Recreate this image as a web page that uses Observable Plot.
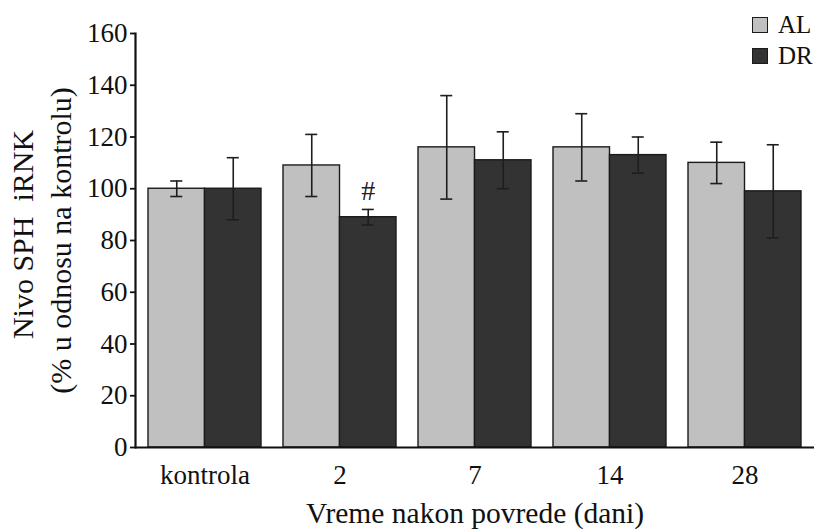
<!DOCTYPE html>
<html>
<head>
<meta charset="utf-8">
<script src="https://cdn.jsdelivr.net/npm/d3@7"></script>
<script src="https://cdn.jsdelivr.net/npm/@observablehq/plot@0.6"></script>
<style>
  body { margin: 0; background: #fff; }
  #chart { position: relative; width: 814px; height: 530px; font-family: "Liberation Serif", "Times New Roman", serif; color: #111; }
  #chart svg text { font-family: "Liberation Serif", "Times New Roman", serif; }
  .legend { position: absolute; left: 752px; top: 9px; }
  .legend .row { display: flex; align-items: center; height: 31px; font-size: 25px; }
  .legend .sw { width: 14px; height: 14px; border: 1.5px solid #1a1a1a; margin-right: 10px; }
</style>
</head>
<body>
<div id="chart"></div>
<script>
// Time points after injury and the two diet groups
const groups = ["kontrola", "2", "7", "14", "28"];
const series = ["AL", "DR"];
const colors = ["#c0c0c0", "#333333"];

// SPH mRNA level, % of control (mean and error)
const alMean = [100, 109, 116, 116, 110];
const alErr  = [3, 12, 20, 13, 8];
const drMean = [100, 89, 111, 113, 99];
const drErr  = [12, 3, 11, 7, 18];

// Significance marker
const markGroup = ["2"];
const markSeries = ["DR"];
const markText = ["#"];

const yTicks = [0, 20, 40, 60, 80, 100, 120, 140, 160];

// Layout
const W = 814, H = 530;
const mL = 135, mR = 0, mT = 33, mB = 83;
const padIn = 0.166, padOut = 0.089;
const step = (W - mL - mR) / (groups.length - padIn + 2 * padOut);
const band = step * (1 - padIn);   // width of one group (two bars)
const half = band / 2;             // width of one bar
const capHalf = 6;                 // half width of an error bar cap

const al = groups.map((g, i) => ({group: g, series: "AL", mean: alMean[i], err: alErr[i]}));
const dr = groups.map((g, i) => ({group: g, series: "DR", mean: drMean[i], err: drErr[i]}));
const bySeries = {AL: al, DR: dr};
const notes = markGroup.map((g, i) => {
  const r = bySeries[markSeries[i]].find(d => d.group === g);
  return {group: g, series: markSeries[i], y: r.mean + r.err, text: markText[i]};
});

const lo = d => d.mean - d.err;
const hi = d => d.mean + d.err;
const ink = "#1e1e1e";

// Bars, whiskers and caps for one series placed in the left or right half of each group
function seriesMarks(data, side) {
  const left = side === "left";
  const shift = left ? -half / 2 : half / 2;
  const capL = left ? half / 2 - capHalf : half + half / 2 - capHalf;
  const capR = band - capL - 2 * capHalf;
  return [
    Plot.barY(data, {x: "group", y: "mean", fill: "series", stroke: "#1a1a1a", strokeWidth: 1.4,
      insetLeft: left ? 0 : half, insetRight: left ? half : 0}),
    Plot.ruleX(data, {x: "group", y1: lo, y2: hi, dx: shift, stroke: ink, strokeWidth: 1.6}),
    Plot.tickY(data, {x: "group", y: lo, insetLeft: capL, insetRight: capR, stroke: ink, strokeWidth: 1.6}),
    Plot.tickY(data, {x: "group", y: hi, insetLeft: capL, insetRight: capR, stroke: ink, strokeWidth: 1.6})
  ];
}

const serif = '"Liberation Serif", "Times New Roman", serif';

const plot = Plot.plot({
  width: W,
  height: H,
  marginLeft: mL,
  marginRight: mR,
  marginTop: mT,
  marginBottom: mB,
  style: {fontFamily: serif, color: "#111", background: "#fff", overflow: "visible"},
  x: {domain: groups, paddingInner: padIn, paddingOuter: padOut, axis: null},
  y: {domain: [0, 160], axis: null},
  color: {domain: series, range: colors},
  marks: [
    ...seriesMarks(al, "left"),
    ...seriesMarks(dr, "right"),
    Plot.text(notes, {x: "group", y: "y", text: "text", dx: half / 2, lineAnchor: "bottom", dy: -9, fontSize: 28, fill: "#222", fontFamily: serif}),
    Plot.axisX({anchor: "bottom", tickSize: 0, tickPadding: 17, fontSize: 27, label: null, fontFamily: serif}),
    Plot.axisY({ticks: yTicks, tickSize: 5, tickPadding: 3, fontSize: 27, label: null, strokeWidth: 1.8, fontFamily: serif}),
    Plot.frame({anchor: "left", stroke: "#111", strokeWidth: 2.2}),
    Plot.ruleY([0], {stroke: "#111", strokeWidth: 2.2}),
    Plot.text(["Nivo SPH\u00a0 iRNK"], {text: d => d, frameAnchor: "left", textAnchor: "middle", rotate: -90, dx: -112, dy: -6, lineAnchor: "middle", fontSize: 30, fill: "#111", fontFamily: serif}),
    Plot.text(["(% u odnosu na kontrolu)"], {text: d => d, frameAnchor: "left", textAnchor: "middle", rotate: -90, dx: -74, lineAnchor: "middle", fontSize: 30, fill: "#111", fontFamily: serif}),
    Plot.text(["Vreme nakon povrede (dani)"], {text: d => d, frameAnchor: "bottom", lineAnchor: "top", dy: 55, fontSize: 29.5, fill: "#111", fontFamily: serif})
  ]
});

const chart = document.getElementById("chart");
chart.appendChild(plot);

// Legend
const legend = document.createElement("div");
legend.className = "legend";
series.forEach((s, i) => {
  const row = document.createElement("div");
  row.className = "row";
  const sw = document.createElement("span");
  sw.className = "sw";
  sw.style.background = colors[i];
  const label = document.createElement("span");
  label.textContent = s;
  row.appendChild(sw);
  row.appendChild(label);
  legend.appendChild(row);
});
chart.appendChild(legend);
</script>
</body>
</html>
